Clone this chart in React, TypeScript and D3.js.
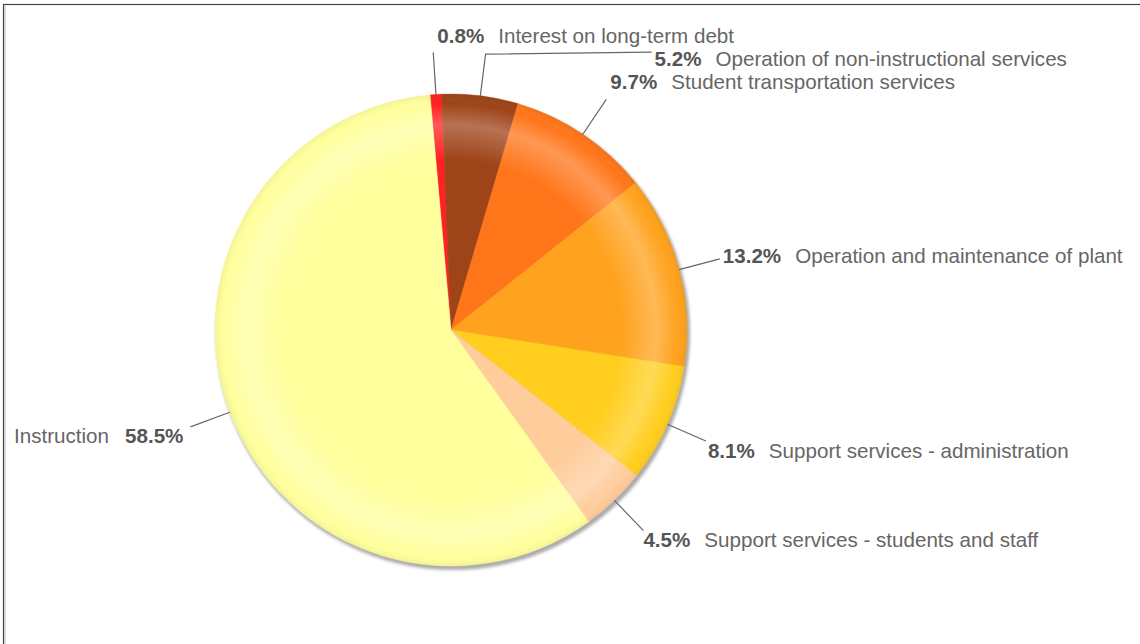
import React from "react";
import * as d3 from "d3";

const categories = [
  "Interest on long-term debt",
  "Operation of non-instructional services",
  "Student transportation services",
  "Operation and maintenance of plant",
  "Support services - administration",
  "Support services - students and staff",
  "Instruction",
];
const values = [0.8, 5.2, 9.7, 13.2, 8.1, 4.5, 58.5];
const colors = ["#FF2222", "#9E4419", "#FF761A", "#FFA21E", "#FFCE1E", "#FFCC9C", "#FFFF9E"];

// label layout: offsets of text anchor from the connector end, horizontal extension of connector, anchor side
const labelLayout = [
  { dx: 4, dy: -10, ext: 0, anchor: "start" },
  { dx: 3, dy: 12, ext: 166, anchor: "start" },
  { dx: 4, dy: -10, ext: 0, anchor: "start" },
  { dx: 3, dy: 4, ext: 0, anchor: "start" },
  { dx: 2, dy: 17, ext: 0, anchor: "start" },
  { dx: 0, dy: 16, ext: 0, anchor: "start" },
  { dx: -7, dy: 16, ext: 0, anchor: "end" },
];

const W = 1140;
const H = 644;
const cx = 451;
const cy = 330;
const R = 236;
const R2 = 278;
const startDeg = -5.1;
const FS = 20.6;

export default function App() {
  const pie = d3
    .pie<number>()
    .sort(null)
    .value((d) => d)
    .startAngle((startDeg * Math.PI) / 180)
    .endAngle((startDeg * Math.PI) / 180 + 2 * Math.PI);
  const arcs = pie(values);
  const arc = d3.arc<d3.PieArcDatum<number>>().innerRadius(0).outerRadius(R);
  const pt = (a: number, r: number) => [cx + r * Math.sin(a), cy - r * Math.cos(a)];

  return (
    <svg
      width={W}
      height={H}
      style={{ position: "absolute", left: 0, top: 0, fontFamily: "'Liberation Sans', Arial, sans-serif" }}
    >
      <defs>
        <filter id="shadow" x="-20%" y="-20%" width="140%" height="140%">
          <feGaussianBlur stdDeviation="1.5" />
        </filter>
        <radialGradient id="sheen" cx={cx} cy={cy} r={R} gradientUnits="userSpaceOnUse">
          <stop offset="0" stopColor="#fff" stopOpacity="0" />
          <stop offset="0.72" stopColor="#fff" stopOpacity="0" />
          <stop offset="0.87" stopColor="#fff" stopOpacity="0.25" />
          <stop offset="0.96" stopColor="#fff" stopOpacity="0" />
          <stop offset="1" stopColor="#000" stopOpacity="0.05" />
        </radialGradient>
      </defs>
      <rect x={0} y={0} width={W} height={H} fill="#fff" />
      <rect x={3.5} y={4.5} width={W + 100} height={H + 100} fill="none" stroke="#444" strokeWidth={1.2} />
      <line x1={5} y1={6} x2={5} y2={H} stroke="#bbb" strokeWidth={1} />

      <circle cx={cx + 2} cy={cy + 3} r={R + 1} fill="#888" opacity={0.7} filter="url(#shadow)" />
      <g transform={`translate(${cx},${cy})`}>
        {arcs.map((a, i) => (
          <path key={i} d={arc(a) || ""} fill={colors[i]} stroke={colors[i]} strokeWidth={0.5} />
        ))}
      </g>
      <circle cx={cx} cy={cy} r={R} fill="url(#sheen)" />

      {arcs.map((a, i) => {
        const mid = (a.startAngle + a.endAngle) / 2;
        const [x1, y1] = pt(mid, R);
        const [x2, y2] = pt(mid, R2);
        const L = labelLayout[i];
        const pts: number[][] = [[x1, y1], [x2, y2]];
        let ex = x2;
        if (L.ext > 0) {
          pts.push([x2 + L.ext, y2 - 2]);
          ex = x2 + L.ext;
        }
        const line = d3.line()(pts as [number, number][]) || "";
        const pct = `${values[i].toFixed(1)}%`;
        return (
          <g key={i}>
            <path d={line} fill="none" stroke="#666" strokeWidth={1.2} />
            {L.anchor === "start" ? (
              <text x={ex + L.dx} y={y2 + L.dy} fontSize={FS} textAnchor="start">
                <tspan fontWeight="bold" fill="#555">{pct}</tspan>
                <tspan dx={14} fill="#666">{categories[i]}</tspan>
              </text>
            ) : (
              <text x={ex + L.dx} y={y2 + L.dy} fontSize={FS} textAnchor="end">
                <tspan fill="#666">{categories[i]}</tspan>
                <tspan dx={16} fontWeight="bold" fill="#555">{pct}</tspan>
              </text>
            )}
          </g>
        );
      })}
    </svg>
  );
}
